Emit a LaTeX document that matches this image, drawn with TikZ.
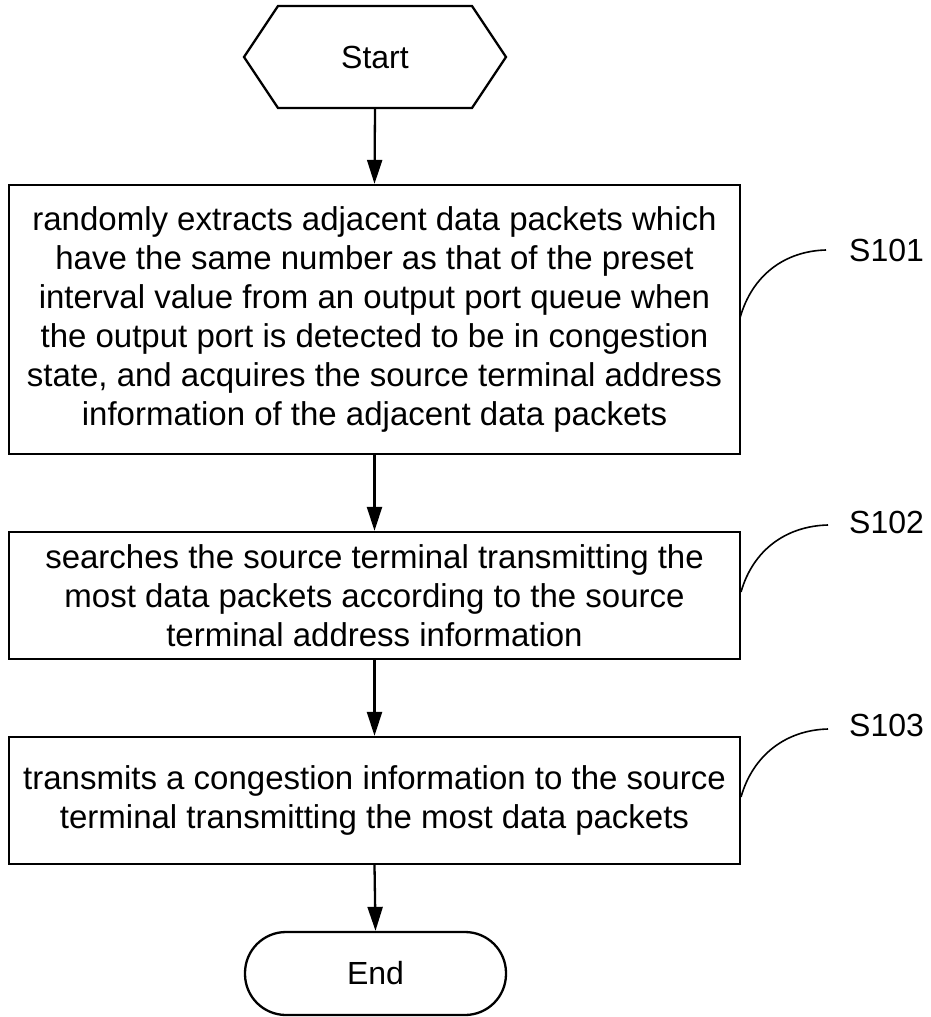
\documentclass[tikz,border=0pt]{standalone}
\usepackage{fontspec}
\setmainfont{Liberation Sans}
\usetikzlibrary{arrows.meta}
\begin{document}
\begin{tikzpicture}[x=1pt,y=-1pt,
  line width=2.3pt,
  every node/.style={font=\fontsize{32}{39}\selectfont, inner sep=0pt},
  stepbox/.style={draw, minimum width=731pt, align=center, font=\fontsize{33}{39}\selectfont},
  flow/.style={-{Triangle[length=24pt,width=15pt]}},
  tag/.style={anchor=west},
  lead/.style={line width=1.6pt}]
\useasboundingbox (0,0) rectangle (931,1017);
% Start hexagon
\draw (244,57) -- (278,6) -- (472,6) -- (506,57) -- (472,108) -- (278,108) -- cycle;
\node[minimum width=262pt, minimum height=102pt] (start) at (375,57) {Start};
% boxes
\node[stepbox, minimum height=269pt] (b1) at (374.5,319.5) {randomly extracts adjacent data packets which\\
have the same number as that of the preset\\
interval value from an output port queue when\\
the output port is detected to be in congestion\\
state, and acquires the source terminal address\\
information of the adjacent data packets};
\node[stepbox, minimum height=127pt] (b2) at (374.5,595.5) {searches the source terminal transmitting the\\
most data packets according to the source\\
terminal address information};
\node[stepbox, minimum height=127pt] (b3) at (374.5,800.5) {transmits a congestion information to the source\\
terminal transmitting the most data packets};
\node[draw, rounded corners=41pt, minimum width=261pt, minimum height=83pt] (end) at (375.5,973.5) {End};
% connectors
\draw[flow] (start.south) -- (b1.north);
\draw[flow] (b1.south) -- (b2.north);
\draw[flow] (b2.south) -- (b3.north);
\draw[flow] (b3.south) -- (end.north);
% labels
\node[tag] (s1) at (848,250) {S101};
\node[tag] (s2) at (848,522) {S102};
\node[tag] (s3) at (848,725) {S103};
\coordinate (c1) at (740,318);
\coordinate (c2) at (741,592);
\coordinate (c3) at (741,797);
\coordinate (e1) at (826,250);
\coordinate (e2) at (828,525);
\coordinate (e3) at (828,729);
\draw[lead] (c1) .. controls (752,275) and (785,251) .. (e1);
\draw[lead] (c2) .. controls (753,550) and (786,526) .. (e2);
\draw[lead] (c3) .. controls (753,755) and (786,730) .. (e3);
\end{tikzpicture}
\end{document}
